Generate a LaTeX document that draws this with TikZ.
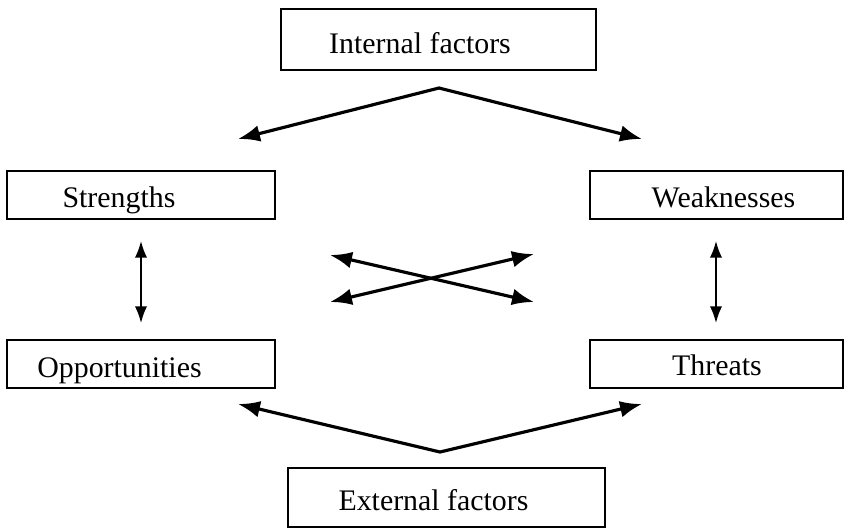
\documentclass[tikz,border=0pt]{standalone}
\usepackage{fontspec}
\setmainfont{Liberation Serif}
\usepackage{tikz}
\usetikzlibrary{shapes,arrows.meta}

\begin{document}
\begin{tikzpicture}[x=0.02cm, y=-0.02cm]
    % Define block styles
    \tikzstyle{block} = [rectangle, draw, line width=0.7pt, inner sep=0pt,
        minimum width=5.36cm, minimum height=0.96cm]
    \tikzstyle{label} = [inner sep=0pt, anchor=base,
        font=\fontsize{17}{20}\selectfont]
    \tikzstyle{line} = [draw, line width=1.8pt, line join=miter,
        {Latex[length=12.5pt,width=9.5pt]}-{Latex[length=12.5pt,width=9.5pt]}]
    \tikzstyle{thin line} = [draw, line width=1pt,
        {Latex[length=9.5pt,width=7pt]}-{Latex[length=9.5pt,width=7pt]}]

    \useasboundingbox (0,0) rectangle (850,528);

    % Place nodes
    \node [block, minimum width=6.3cm, minimum height=1.22cm] (internal) at (438.5,39.5) {};
    \node [label] (internaltxt) at (420,53) {Internal factors};
    \node [block] (strengths) at (141,195) {};
    \node [label] (strengthstxt) at (119,207) {Strengths};
    \node [block, minimum width=5.06cm] (weaknesses) at (716.5,195) {};
    \node [label] (weaknessestxt) at (723.5,207) {Weaknesses};
    \node [block] (opportunities) at (141,364) {};
    \node [label] (opportunitiestxt) at (119.5,377) {Opportunities};
    \node [block, minimum width=5.06cm] (threats) at (716.5,364) {};
    \node [label] (threatstxt) at (717,375) {Threats};
    \node [block, minimum width=6.34cm, minimum height=1.18cm] (external) at (446.5,497.5) {};
    \node [label] (externaltxt) at (433.5,510) {External factors};

    % Arrow ends
    \coordinate (itop) at (439,88);
    \coordinate (ileft) at (238,139);
    \coordinate (iright) at (642,139);
    \coordinate (ebot) at (440,452);
    \coordinate (eleft) at (238,404);
    \coordinate (eright) at (642,404);
    \coordinate (xul) at (330,255);
    \coordinate (xur) at (534,254);
    \coordinate (xll) at (330,302);
    \coordinate (xlr) at (534,302);
    \coordinate (sup) at (141,241);
    \coordinate (sdown) at (141,323);
    \coordinate (wup) at (716,241);
    \coordinate (wdown) at (716,323);

    % Draw edges
    \path [line] (ileft) -- (itop) -- (iright);
    \path [line] (eleft) -- (ebot) -- (eright);
    \path [line] (xul) -- (xlr);
    \path [line] (xll) -- (xur);
    \path [thin line] (sup) -- (sdown);
    \path [thin line] (wup) -- (wdown);
\end{tikzpicture}
\end{document}
